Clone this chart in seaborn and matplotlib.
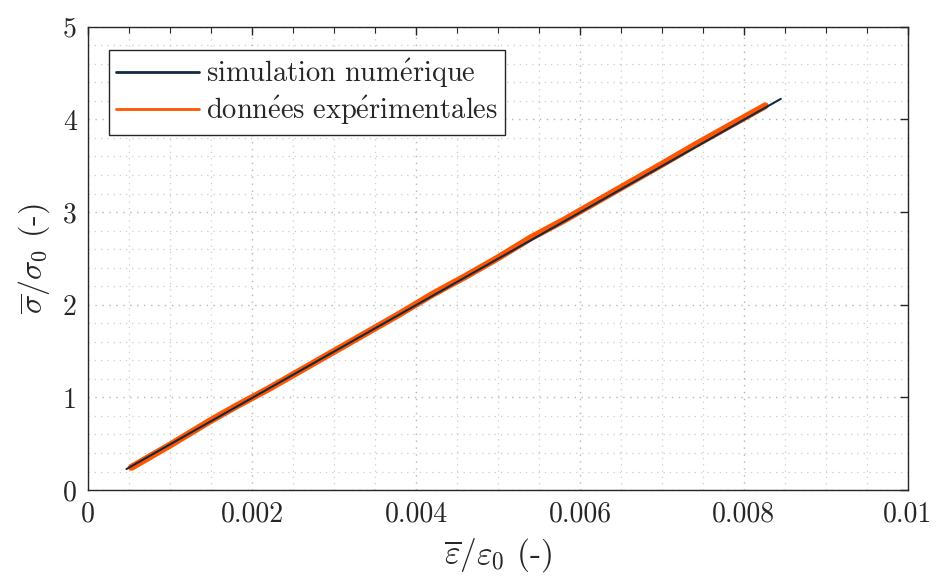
import matplotlib
matplotlib.use('Agg')
import matplotlib.pyplot as plt
import seaborn as sns
import pandas as pd
from matplotlib.ticker import MultipleLocator

# Données
sim_x = [0.00047, 0.0020, 0.0040, 0.0060, 0.00845]
sim_y = [0.227, 0.993, 1.995, 2.996, 4.222]

exp_x = [0.00053, 0.0010, 0.0015, 0.0018, 0.0022, 0.0026, 0.0030, 0.0034,
         0.0038, 0.0042, 0.0046, 0.0050, 0.0054, 0.0058, 0.0062, 0.0066,
         0.0070, 0.0074, 0.0078, 0.00826]
exp_y = [0.245, 0.485, 0.752, 0.902, 1.092, 1.294, 1.496, 1.698,
         1.900, 2.112, 2.304, 2.506, 2.722, 2.910, 3.112, 3.314,
         3.516, 3.722, 3.920, 4.147]

x_ticks = [0, 0.002, 0.004, 0.006, 0.008, 0.01]
x_ticklabels = ['0', '0.002', '0.004', '0.006', '0.008', '0.01']
y_ticks = [0, 1, 2, 3, 4, 5]
y_ticklabels = ['0', '1', '2', '3', '4', '5']

label_sim = r'$\mathrm{simulation\ num\acute{e}rique}$'
label_exp = r'$\mathrm{donn\acute{e}es\ exp\acute{e}rimentales}$'

# Configuration
sns.set_theme(style="white")
plt.rcParams['font.family'] = ['cmr10', 'DejaVu Serif']
plt.rcParams['mathtext.fontset'] = 'cm'
plt.rcParams['axes.unicode_minus'] = False

df_sim = pd.DataFrame({'x': sim_x, 'y': sim_y})
df_exp = pd.DataFrame({'x': exp_x, 'y': exp_y})

fig = plt.figure(figsize=(9.36, 5.82), dpi=100)
ax = fig.add_axes([0.094, 0.158, 0.876, 0.796])

sns.lineplot(data=df_sim, x='x', y='y', ax=ax, color='#0f2b46',
             label=label_sim, sort=False)
sns.lineplot(data=df_exp, x='x', y='y', ax=ax, color='#ff5500',
             label=label_exp, sort=False)

# épaisseurs et ordre d'affichage
line_sim, line_exp = ax.lines[0], ax.lines[1]
line_sim.set_linewidth(1.5)
line_sim.set_zorder(4)
line_exp.set_linewidth(5.0)
line_exp.set_zorder(3)
line_exp.set_solid_capstyle('round')

ax.set_xlim(0, 0.01)
ax.set_ylim(0, 5)
ax.set_xticks(x_ticks)
ax.set_xticklabels(x_ticklabels, fontsize=20)
ax.set_yticks(y_ticks)
ax.set_yticklabels(y_ticklabels, fontsize=20)
ax.xaxis.set_minor_locator(MultipleLocator(0.0005))
ax.yaxis.set_minor_locator(MultipleLocator(0.2))

ax.tick_params(which='both', direction='in', top=True, right=True, color='#262626')
ax.tick_params(which='major', length=6, width=1, pad=8)
ax.tick_params(axis='x', which='minor', length=4, width=0.8)
ax.tick_params(axis='y', which='minor', length=0)

ax.grid(which='major', linestyle=(0, (1, 4)), color='#b5b5b5', lw=1.0)
ax.grid(which='minor', linestyle=(0, (1, 4)), color='#cccccc', lw=0.9)
ax.set_axisbelow(True)

for s in ax.spines.values():
    s.set_color('#262626')
    s.set_linewidth(1.0)

ax.set_xlabel(r'$\overline{\varepsilon}/\varepsilon_0$ (-)', fontsize=24, labelpad=6)
ax.set_ylabel(r'$\overline{\sigma}/\sigma_0$ (-)', fontsize=23, labelpad=8)

leg = ax.legend(loc='upper left', bbox_to_anchor=(0.0256, 0.95), borderaxespad=0,
                fontsize=20.5, frameon=True, fancybox=False, framealpha=1,
                edgecolor='#262626', handlelength=2.9, handletextpad=0.25,
                borderpad=0.25, labelspacing=0.15)
leg.get_frame().set_linewidth(1.0)
for h in leg.legend_handles:
    h.set_linewidth(2.0)

plt.savefig('out.png', dpi=100)
plt.close()
